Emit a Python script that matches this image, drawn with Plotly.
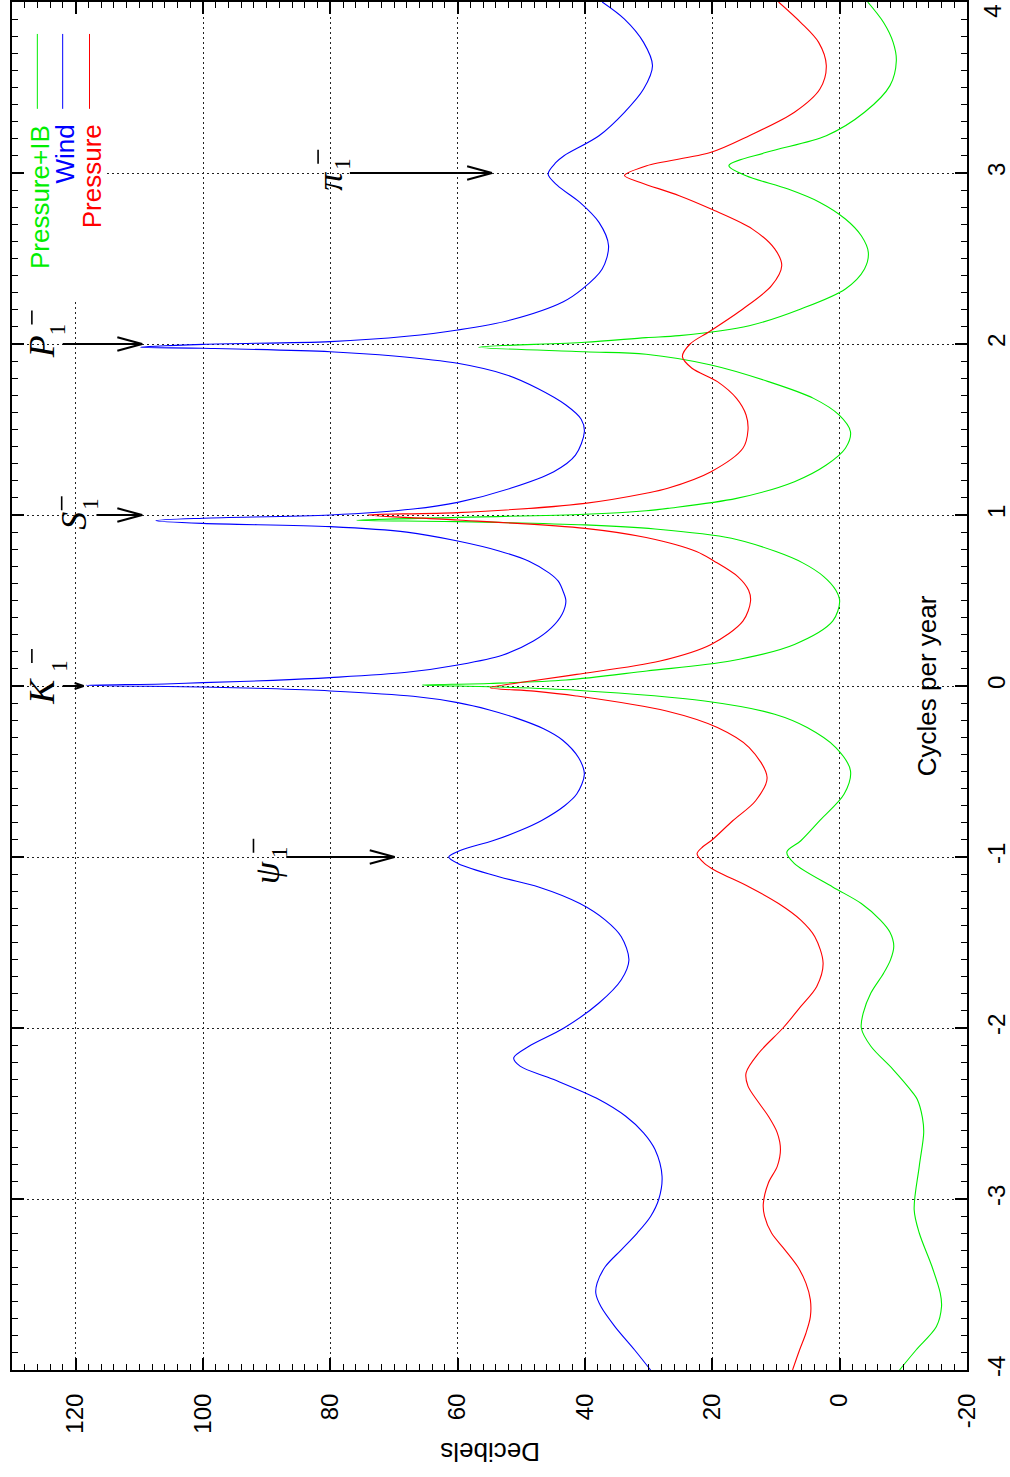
import plotly.graph_objects as go

# ---------------- data ----------------
wind_f = [-4.0, -3.883, -3.746, -3.629, -3.551, -3.492, -3.395, -3.297, -3.199, -3.102,
          -3.0, -2.867, -2.711, -2.613, -2.516, -2.418, -2.30, -2.223, -2.175, -2.107,
          -2.0, -1.854, -1.718, -1.602, -1.466, -1.369, -1.272, -1.175, -1.117, -1.039,
          -1.0, -0.96, -0.905, -0.845, -0.786, -0.70, -0.632, -0.516, -0.42, -0.317,
          -0.25, -0.185, -0.14, -0.097, -0.06, -0.029, -0.015, -0.006, 0.004, 0.012,
          0.0195, 0.033, 0.049, 0.08, 0.123, 0.18, 0.263, 0.34, 0.42, 0.496,
          0.55, 0.613, 0.66, 0.73, 0.79, 0.848, 0.90, 0.932, 0.951, 0.967, 0.981,
          1.0, 1.035, 1.074, 1.156, 1.253, 1.35, 1.487, 1.56, 1.643, 1.741,
          1.819, 1.887, 1.93, 1.955, 1.975, 1.981, 1.998, 2.014, 2.045, 2.082,
          2.14, 2.247, 2.322, 2.439, 2.575, 2.711, 2.828, 2.926, 2.994, 3.06,
          3.101, 3.218, 3.355, 3.491, 3.628, 3.764, 3.90, 4.0]
wind_db = [29.7, 32.2, 35.3, 37.5, 38.3, 38.1, 36.8, 34.3, 31.8, 29.7,
           28.4, 27.9, 29.0, 30.8, 33.6, 37.8, 45.0, 50.2, 51.2, 48.8,
           43.3, 37.8, 34.3, 33.1, 34.3, 36.8, 40.8, 47.3, 53.4, 59.9,
           61.4, 59.5, 54.5, 50.2, 46.8, 43.2, 41.3, 40.1, 41.0, 43.5,
           46.5, 51.0, 55.0, 60.0, 67.0, 80.0, 90.0, 100.0, 118.4, 106.0,
           100.0, 89.0, 80.0, 68.0, 60.0, 53.0, 48.1, 45.3, 43.6, 43.0,
           43.4, 44.2, 45.6, 48.8, 53.5, 60.0, 68.0, 80.0, 100.0, 107.4, 100.0,
           80.0, 67.0, 60.0, 51.7, 44.9, 41.5, 40.1, 40.6, 43.0, 47.5,
           52.3, 60.0, 70.0, 80.0, 100.0, 109.8, 100.0, 80.0, 68.0, 60.0,
           51.7, 43.4, 40.4, 37.3, 36.3, 37.8, 40.8, 44.3, 45.8, 44.6,
           43.3, 37.8, 33.8, 30.8, 29.4, 30.8, 33.8, 37.3]

pres_f = [-4.0, -3.883, -3.785, -3.688, -3.59, -3.492, -3.395, -3.297, -3.199, -3.10,
          -3.03, -2.906, -2.809, -2.711, -2.613, -2.516, -2.437, -2.34, -2.262, -2.146,
          -2.0, -1.874, -1.757, -1.621, -1.466, -1.369, -1.272, -1.175, -1.08, -1.039,
          -0.981, -0.94, -0.905, -0.788, -0.671, -0.535, -0.36, -0.243, -0.146, -0.058,
          -0.03, -0.01, 0.029, 0.068, 0.146, 0.243, 0.379, 0.496, 0.56, 0.64, 0.73,
          0.786, 0.868, 0.922, 0.971, 1.0, 1.014, 1.068, 1.127, 1.156, 1.253,
          1.39, 1.497, 1.585, 1.682, 1.78, 1.858, 1.926, 2.0, 2.072, 2.205,
          2.341, 2.458, 2.556, 2.672, 2.789, 2.867, 2.945, 2.985, 3.043, 3.121,
          3.218, 3.355, 3.491, 3.628, 3.764, 3.88, 4.0]
pres_db = [7.4, 6.3, 5.3, 4.6, 4.6, 5.3, 6.6, 8.6, 10.7, 11.8,
           12.0, 11.2, 9.8, 9.3, 9.8, 11.2, 12.7, 14.4, 14.7, 12.7,
           8.9, 6.1, 3.6, 2.6, 3.9, 6.1, 9.6, 14.2, 19.5, 21.2,
           22.4, 21.5, 20.2, 16.8, 13.2, 11.4, 14.2, 19.2, 27.2, 41.4,
           48.0, 54.9, 48.5, 41.3, 28.2, 20.2, 15.2, 14.0, 14.3, 16.0, 19.7,
           22.5, 30.4, 40.0, 60.0, 74.1, 60.0, 40.0, 30.4, 27.0, 20.2,
           15.2, 14.4, 14.7, 16.2, 19.2, 23.2, 24.7, 23.5, 20.5, 15.2,
           10.7, 9.1, 10.2, 13.7, 20.2, 25.2, 31.3, 33.8, 30.3, 20.2,
           14.2, 7.1, 3.1, 2.1, 3.3, 6.1, 9.6]

pib_f = [-4.0, -3.883, -3.746, -3.629, -3.551, -3.395, -3.199, -3.062, -2.809, -2.613,
         -2.524, -2.418, -2.379, -2.243, -2.107, -2.0, -1.913, -1.796, -1.68, -1.60,
         -1.52, -1.44, -1.369, -1.272, -1.175, -1.039, -0.971, -0.905, -0.786, -0.632,
         -0.496, -0.36, -0.243, -0.165, -0.088, -0.025, -0.006, 0.006, 0.015, 0.035,
         0.088, 0.146, 0.243, 0.379, 0.496, 0.56, 0.64, 0.72, 0.786, 0.864, 0.918,
         0.942, 0.961, 0.969, 0.986, 1.004, 1.025, 1.039, 1.097, 1.195, 1.292,
         1.39, 1.487, 1.585, 1.682, 1.78, 1.877, 1.94, 1.955, 1.981, 2.01,
         2.037, 2.049, 2.107, 2.205, 2.322, 2.439, 2.536, 2.633, 2.731, 2.828,
         2.906, 2.984, 3.043, 3.121, 3.218, 3.355, 3.511, 3.657, 3.764, 3.88,
         4.0]
pib_db = [-9.4, -12.0, -15.2, -16.0, -15.8, -14.5, -12.5, -11.7, -12.5, -13.2,
          -13.0, -12.2, -11.5, -8.4, -4.9, -3.4, -3.7, -4.9, -6.9, -8.0,
          -8.5, -7.9, -6.4, -3.4, 1.1, 7.1, 8.3, 6.1, 3.1, -0.7,
          -1.7, 0.6, 5.1, 10.2, 21.2, 41.4, 53.4, 65.6, 55.0, 43.0,
          30.3, 17.2, 7.1, 1.1, 0.0, 0.6, 2.5, 5.8, 10.0, 17.0, 29.0,
          40.0, 60.0, 75.9, 60.0, 40.0, 30.4, 27.0, 16.2, 7.1, 2.1,
          -0.9, -1.7, 0.1, 4.1, 11.2, 20.2, 30.4, 40.0, 56.7, 40.0,
          30.4, 25.2, 14.2, 6.1, -0.9, -3.9, -4.5, -3.4, -0.9, 3.1,
          8.1, 14.7, 17.4, 11.5, 2.1, -3.9, -7.9, -8.9, -8.4, -6.9,
          -4.4]

series_names = ["Pressure+IB", "Wind", "Pressure"]
series_colors = ["#00ee00", "#0000ff", "#ff0000"]

db_ticks = [-20, 0, 20, 40, 60, 80, 100, 120]
db_ticktext = ["-20", "0", "20", "40", "60", "80", "100", "120"]
f_ticks = [-4, -3, -2, -1, 0, 1, 2, 3, 4]
f_ticktext = ["-4", "-3", "-2", "-1", "0", "1", "2", "3", "4"]

tidal_letters = ["K", "S", "P", "\u03c8", "\u03c0"]
tidal_freqs = [0, 1, 2, -1, 3]

# ---------------- layout geometry ----------------
W, H = 1010, 1477
ML, MR, MT, MB = 12, 37, 0, 107
DB_RANGE = [130, -20]
F_RANGE = [-4, 4]
PW = W - ML - MR
PH = H - MT - MB
SANS = "Liberation Sans, Arial, Helvetica, sans-serif"
SERIF = "Liberation Serif, Times New Roman, serif"


def dbx(px):
    return DB_RANGE[0] + (px - ML) / PW * (DB_RANGE[1] - DB_RANGE[0])


def fy(py):
    return F_RANGE[1] - (py - MT) / PH * (F_RANGE[1] - F_RANGE[0])


DB_PER_PX = abs(DB_RANGE[1] - DB_RANGE[0]) / PW
F_PER_PX = (F_RANGE[1] - F_RANGE[0]) / PH

fig = go.Figure()
for name, color, fx, dby in [
    (series_names[0], series_colors[0], pib_f, pib_db),
    (series_names[1], series_colors[1], wind_f, wind_db),
    (series_names[2], series_colors[2], pres_f, pres_db),
]:
    fig.add_trace(go.Scatter(x=dby, y=fx, mode="lines", name=name,
                             line=dict(color=color, width=1.1, shape="spline", smoothing=0.9),
                             showlegend=False))

shapes = []
annotations = []

# white legend box (hides grid behind the key)
shapes.append(dict(type="rect", xref="x", yref="y", x0=DB_RANGE[0], x1=dbx(107),
                   y0=fy(300), y1=F_RANGE[1], fillcolor="white", line=dict(width=0),
                   layer="between"))

# legend key: rotated text + vertical line samples
legend_px_x = [37.5, 63, 90]
legend_text_center_y = [195, 152, 175]
for i in range(3):
    shapes.append(dict(type="line", xref="x", yref="y",
                       x0=dbx(legend_px_x[i]), x1=dbx(legend_px_x[i]),
                       y0=fy(32), y1=fy(107), line=dict(color=series_colors[i], width=1)))
    annotations.append(dict(xref="x", yref="y", x=dbx(legend_px_x[i] + 2),
                            y=fy(legend_text_center_y[i]), text=series_names[i],
                            textangle=-90, showarrow=False, xanchor="center", yanchor="middle",
                            font=dict(family=SANS, size=26, color=series_colors[i])))

# tidal line labels and arrows
glyph_c = [(42, 690), (75, 520), (42, 345), (268, 872), (332, 180)]
sub_c = [(59, 665), (91, 503), (58, 328), (281, 851), (345, 162)]
bar_c = [(32, 655), (62, 502), (32, 316), (255, 845), (320, 155)]
arrow_tail_px = [63, 97, 63, 288, 352]
arrow_tip_px = [84, 143, 143, 397, 495]
for i, letter in enumerate(tidal_letters):
    annotations.append(dict(xref="x", yref="y", x=dbx(glyph_c[i][0]), y=fy(glyph_c[i][1]),
                            text="<i>%s</i>" % letter, textangle=-90, showarrow=False,
                            xanchor="center", yanchor="middle",
                            font=dict(family=SERIF, size=36, color="black")))
    annotations.append(dict(xref="x", yref="y", x=dbx(sub_c[i][0]), y=fy(sub_c[i][1]),
                            text="1", textangle=-90, showarrow=False,
                            xanchor="center", yanchor="middle",
                            font=dict(family=SERIF, size=23, color="black")))
    shapes.append(dict(type="line", xref="x", yref="y",
                       x0=dbx(bar_c[i][0]), x1=dbx(bar_c[i][0]),
                       y0=fy(bar_c[i][1] - 7), y1=fy(bar_c[i][1] + 7),
                       line=dict(color="black", width=1.6)))
    f0 = tidal_freqs[i]
    tail = dbx(arrow_tail_px[i])
    tip = dbx(arrow_tip_px[i])
    shapes.append(dict(type="line", xref="x", yref="y", x0=tail, x1=tip, y0=f0, y1=f0,
                       line=dict(color="black", width=2)))
    head_len = 25 if i != 0 else 9
    head_w = 6.7 if i != 0 else 3
    for s in (1, -1):
        shapes.append(dict(type="line", xref="x", yref="y", x0=tip,
                           x1=tip + head_len * DB_PER_PX, y0=f0, y1=f0 + s * head_w * F_PER_PX,
                           line=dict(color="black", width=2)))

# axis titles
annotations.append(dict(xref="x", yref="y", x=dbx(933), y=fy(685), text="Cycles per year",
                        textangle=-90, showarrow=False, xanchor="center", yanchor="middle",
                        font=dict(family=SANS, size=26, color="black")))
annotations.append(dict(xref="paper", yref="paper", x=(493 - ML) / PW, y=-(1452 - MT - PH) / PH,
                        text="Decibels", textangle=180, showarrow=False,
                        xanchor="center", yanchor="middle",
                        font=dict(family=SANS, size=26, color="black")))
# top tick label, kept just inside the page edge
annotations.append(dict(xref="paper", yref="y", x=(999 - ML) / PW, y=fy(9),
                        text=f_ticktext[-1], textangle=-90, showarrow=False,
                        xanchor="center", yanchor="middle",
                        font=dict(family=SANS, size=24, color="black")))

axis_common = dict(showline=True, linecolor="black", linewidth=2, mirror="ticks",
                   ticks="inside", ticklen=12, tickwidth=1.5, tickcolor="black",
                   showgrid=True, gridcolor="#222222", gridwidth=1, griddash="2px,3px",
                   zeroline=False, tickangle=-90,
                   tickfont=dict(family=SANS, size=24, color="black"))

fig.update_layout(
    width=W, height=H, margin=dict(l=ML, r=MR, t=MT, b=MB, pad=0),
    paper_bgcolor="white", plot_bgcolor="white",
    showlegend=False,
    xaxis=dict(range=DB_RANGE, autorange=False, tickmode="array", tickvals=db_ticks,
               ticktext=db_ticktext, ticklabelstandoff=12,
               minor=dict(tickmode="linear", tick0=-20, dtick=2, ticks="inside", ticklen=6,
                          tickwidth=1, tickcolor="black", showgrid=False),
               **axis_common),
    yaxis=dict(range=F_RANGE, autorange=False, side="right", tickmode="array",
               tickvals=f_ticks, ticktext=f_ticktext, ticklabelstandoff=7,
               minor=dict(tickmode="linear", tick0=-4, dtick=0.1, ticks="inside", ticklen=6,
                          tickwidth=1, tickcolor="black", showgrid=False),
               **axis_common),
    shapes=shapes,
    annotations=annotations,
)

fig.write_html("out.html", config={"displayModeBar": False},
               post_script="document.body.style.margin='0';document.body.style.overflow='hidden';")
